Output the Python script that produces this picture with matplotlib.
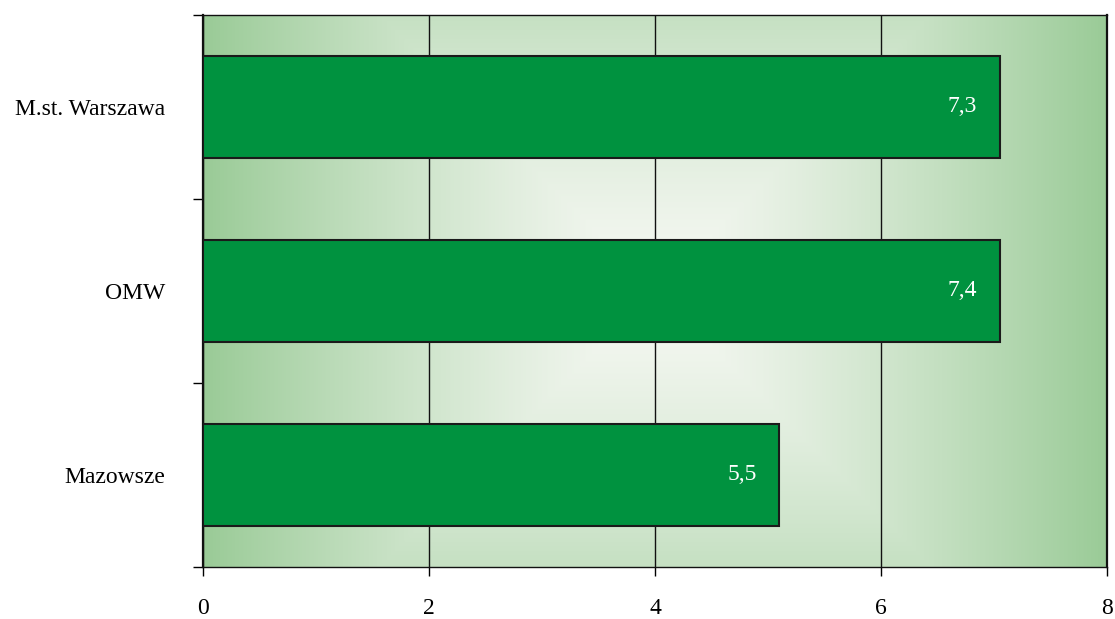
import numpy as np
import matplotlib
matplotlib.use('Agg')
import matplotlib.pyplot as plt
from matplotlib.colors import LinearSegmentedColormap

# data (bottom to top)
categories = ['Mazowsze', 'OMW', 'M.st. Warszawa']
bar_values = [5.1, 7.05, 7.05]
value_labels = ['5,5', '7,4', '7,3']

plt.rcParams['font.family'] = ['Liberation Serif', 'DejaVu Serif']
plt.rcParams['font.size'] = 17

fig = plt.figure(figsize=(11.15, 6.19), dpi=100)
ax = fig.add_axes([0.182, 0.084, 0.811, 0.892])

# background: rectangular gradient, light in the middle, green at the edges
nx, ny = 400, 250
u = np.linspace(-1, 1, nx)
v = np.linspace(-1, 1, ny)
U, V = np.meshgrid(u, v)
t = np.maximum(np.abs(U), np.abs(V) * 0.61) ** 1.3
cmap = LinearSegmentedColormap.from_list('bg', ['#f6f8f3', '#9acb97'])
ax.imshow(t, cmap=cmap, vmin=0, vmax=1, extent=[0, 8, -0.5, 2.5],
          aspect='auto', interpolation='bilinear', zorder=0)

y = np.arange(len(categories))
ax.barh(y, bar_values, height=0.555, color='#00923f', edgecolor='#1a1a1a',
        linewidth=1.5, zorder=3)

for yi, val, lab in zip(y, bar_values, value_labels):
    ax.text(val - 0.33, yi, lab, ha='center', va='center', color='white',
            fontsize=17, zorder=4)

ax.set_xlim(0, 8)
ax.set_ylim(-0.5, 2.5)
ax.set_xticks([0, 2, 4, 6, 8])
ax.set_xticklabels(['0', '2', '4', '6', '8'])
ax.xaxis.grid(True, color='#111111', linewidth=1.0, zorder=1)
ax.set_axisbelow(True)

ax.set_yticks(y)
ax.set_yticklabels(categories)
ax.set_yticks([-0.5, 0.5, 1.5, 2.5], minor=True)
ax.tick_params(axis='y', which='major', length=0, pad=27)
ax.tick_params(axis='y', which='minor', length=7.2, width=1.0, direction='out')
ax.tick_params(axis='x', which='major', length=6.5, width=1.0, direction='out', pad=15.5)

for side in ['top', 'bottom']:
    ax.spines[side].set_linewidth(1.0)
for side in ['left', 'right']:
    ax.spines[side].set_linewidth(1.6)
for s in ax.spines.values():
    s.set_color('#111111')

fig.savefig('out.png', dpi=100)
